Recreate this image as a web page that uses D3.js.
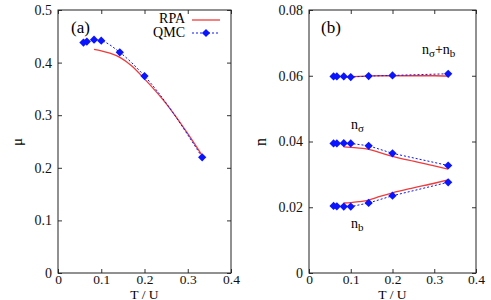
<!DOCTYPE html>
<html><head><meta charset="utf-8">
<script src="https://cdn.jsdelivr.net/npm/d3@7"></script>
<style>body{margin:0;background:#fff}svg text{font-family:"Liberation Serif","Times New Roman","DejaVu Serif",serif}</style>
</head><body>
<svg id="c" width="491" height="300"></svg>
<script>
// ---- data ----
const tQMC = [1/17, 1/15, 1/12, 1/10, 1/7, 1/5, 1/3];
const muQMC = [0.438, 0.440, 0.4435, 0.4417, 0.4195, 0.3745, 0.220];
const tRPA = [0.0833, 0.1, 0.12, 0.143, 0.17, 0.2, 0.25, 0.3, 0.333];
const muRPA = [0.425, 0.4225, 0.418, 0.410, 0.394, 0.369, 0.322, 0.265, 0.224];

const nSumQMC = [0.0598, 0.0598, 0.0598, 0.0596, 0.0599, 0.0601, 0.0606];
const nSigQMC = [0.0394, 0.0394, 0.0395, 0.0394, 0.0387, 0.0364, 0.0327];
const nBQMC = [0.0204, 0.0203, 0.0202, 0.0202, 0.0213, 0.0235, 0.0276];
const nErr = [0.0004, 0.0003, 0.0003, 0.0003, 0.0002, 0.0001, 0.0001];

const tRPAb = [0.0833, 0.1, 0.12, 0.143, 0.17, 0.2, 0.25, 0.3, 0.333];
const nSumRPA = [0.0596, 0.0597, 0.0598, 0.0599, 0.0600, 0.0600, 0.0600, 0.0600, 0.0599];
const nSigRPA = [0.0384, 0.0382, 0.0380, 0.0376, 0.0366, 0.0355, 0.0340, 0.0326, 0.0316];
const nBRPA = [0.0213, 0.0214, 0.0217, 0.0222, 0.0233, 0.0244, 0.0259, 0.0273, 0.0283];

const xTicks = [0, 0.1, 0.2, 0.3, 0.4];
const muTicks = [0, 0.1, 0.2, 0.3, 0.4, 0.5];
const nTicks = [0, 0.02, 0.04, 0.06, 0.08];

const FONT = '"Liberation Serif","Times New Roman","DejaVu Serif",serif';
const RED = "#f23a3a", BLUE = "#0a14ff";
const svg = d3.select("#c");
const diamond = d3.symbol().type(d3.symbolSquare).size(34);
const dmTr = (x, y) => `translate(${x},${y}) rotate(45)`;

function panel(x0, x1, yDom, yTicks, yFmt) {
  const x = d3.scaleLinear().domain([0, 0.4]).range([x0, x1]);
  const y = d3.scaleLinear().domain(yDom).range([273, 10]);
  const g = svg.append("g");
  const ax = (gen, tr, fs) => {
    const a = g.append("g").attr("transform", tr).call(gen);
    a.attr("font-family", FONT).attr("font-size", fs);
    a.select(".domain").remove();
    a.selectAll("line").attr("stroke", "#333");
    a.selectAll("text").attr("fill", "#111").style("font-family", FONT);
    return a;
  };
  ax(d3.axisBottom(x).tickValues(xTicks).tickFormat(d3.format("")).tickSizeInner(-4).tickPadding(1), "translate(0,273)", 13.5);
  ax(d3.axisTop(x).tickValues(xTicks).tickFormat("").tickSizeInner(-4), "translate(0,10)", 14);
  ax(d3.axisLeft(y).tickValues(yTicks).tickFormat(yFmt).tickSizeInner(-4).tickPadding(6), `translate(${x0},0)`, 14);
  ax(d3.axisRight(y).tickValues(yTicks).tickFormat("").tickSizeInner(-4), `translate(${x1},0)`, 14);
  g.append("rect").attr("x", x0).attr("y", 10).attr("width", x1 - x0).attr("height", 263)
    .attr("fill", "none").attr("stroke", "#222").attr("stroke-width", 1);
  g.append("text").attr("x", (x0 + x1) / 2).attr("y", 298.5).attr("text-anchor", "middle")
    .attr("font-size", 13.5).text("T / U");
  return {x, y, g};
}

function series(p, tx, ty, color, dashed, curve) {
  const line = d3.line().x((d, i) => p.x(tx[i])).y(d => p.y(d)).curve(curve || d3.curveLinear);
  p.g.append("path").attr("d", line(ty)).attr("fill", "none").attr("stroke", color)
    .attr("stroke-width", dashed ? 1 : 1.3).attr("stroke-dasharray", dashed ? "2,2" : null);
}
function points(p, tx, ty, err) {
  if (err) {
    p.g.selectAll(null).data(ty).enter().append("line")
      .attr("x1", (d, i) => p.x(tx[i])).attr("x2", (d, i) => p.x(tx[i]))
      .attr("y1", (d, i) => p.y(d - err[i])).attr("y2", (d, i) => p.y(d + err[i]))
      .attr("stroke", BLUE).attr("stroke-width", 1);
  }
  p.g.selectAll(null).data(ty).enter().append("path")
    .attr("d", diamond).attr("fill", BLUE)
    .attr("transform", (d, i) => dmTr(p.x(tx[i]), p.y(d)));
}

// Panel (a)
const pa = panel(58, 231, [0, 0.5], muTicks, d => d === 0 ? "0" : d3.format(".1f")(d));
series(pa, tRPA, muRPA, RED, false, d3.curveMonotoneX);
series(pa, tQMC, muQMC, BLUE, true, d3.curveMonotoneX);
points(pa, tQMC, muQMC);
pa.g.append("text").attr("x", 71).attr("y", 33).attr("font-size", 17).text("(a)");
pa.g.append("text").attr("x", 22).attr("y", 142).attr("font-size", 15)
  .attr("transform", "rotate(-90,22,142)").attr("text-anchor", "middle").text("μ");
// legend
pa.g.append("text").attr("x", 185).attr("y", 23).attr("text-anchor", "end").attr("font-size", 14).text("RPA");
pa.g.append("line").attr("x1", 192).attr("x2", 220).attr("y1", 20).attr("y2", 20).attr("stroke", RED).attr("stroke-width", 1.3);
pa.g.append("text").attr("x", 185).attr("y", 37).attr("text-anchor", "end").attr("font-size", 14).text("QMC");
pa.g.append("line").attr("x1", 192).attr("x2", 220).attr("y1", 33).attr("y2", 33).attr("stroke", BLUE).attr("stroke-dasharray", "2,2");
pa.g.append("path").attr("d", diamond).attr("fill", BLUE).attr("transform", dmTr(206, 33));

// Panel (b)
const pb = panel(309, 476, [0, 0.08], nTicks, d => d === 0 ? "0" : d3.format(".2f")(d));
series(pb, tRPAb, nSumRPA, RED, false, d3.curveMonotoneX);
series(pb, tRPAb, nSigRPA, RED, false, d3.curveMonotoneX);
series(pb, tRPAb, nBRPA, RED, false, d3.curveMonotoneX);
series(pb, tQMC, nSumQMC, BLUE, true);
series(pb, tQMC, nSigQMC, BLUE, true);
series(pb, tQMC, nBQMC, BLUE, true);
points(pb, tQMC, nSumQMC, nErr);
points(pb, tQMC, nSigQMC);
points(pb, tQMC, nBQMC);
pb.g.append("text").attr("x", 321).attr("y", 33).attr("font-size", 17).text("(b)");
pb.g.append("text").attr("x", 266).attr("y", 142).attr("font-size", 16)
  .attr("transform", "rotate(-90,266,142)").attr("text-anchor", "middle").text("n");
function nLabel(x, y, parts) {
  const t = pb.g.append("text").attr("x", x).attr("y", y).attr("font-size", 14);
  let down = false;
  parts.forEach(([s, sub]) => {
    const ts = t.append("tspan").text(s);
    if (sub) { ts.attr("font-size", 11).attr("dy", 3); down = true; }
    else if (down) { ts.attr("dy", -3); down = false; }
  });
}
nLabel(422, 54, [["n"], ["σ", true], ["+n"], ["b", true]]);
nLabel(351, 129, [["n"], ["σ", true]]);
nLabel(351, 228, [["n"], ["b", true]]);
</script>
</body></html>
